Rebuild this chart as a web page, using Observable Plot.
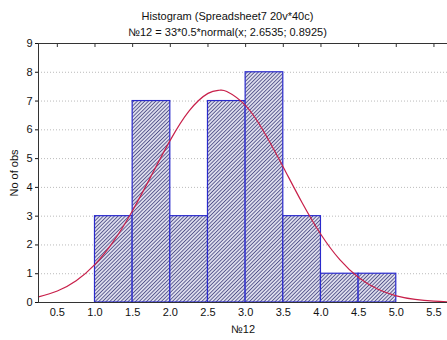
<!DOCTYPE html>
<html>
<head>
<meta charset="utf-8">
<script src="https://cdn.jsdelivr.net/npm/d3@7"></script>
<script src="https://cdn.jsdelivr.net/npm/@observablehq/plot@0.6"></script>
<style>
  body { margin: 0; background: #fff; font-family: "Liberation Sans", Arial, sans-serif; }
  #wrap { width: 447px; height: 340px; overflow: hidden; }
  .t { text-align: center; font-size: 11px; color: #111; padding-left: 8px; position: relative; z-index: 2; }
  .t1 { padding-top: 7px; height: 18px; line-height: 18px; }
  .t2 { height: 15px; line-height: 15px; margin-bottom: -8px; }
  #chart { position: relative; z-index: 1; }
</style>
</head>
<body>
<div id="wrap">
  <div class="t t1">Histogram (Spreadsheet7 20v*40c)</div>
  <div class="t t2">№12 = 33*0.5*normal(x; 2.6535; 0.8925)</div>
  <div id="chart"></div>
</div>
<script>
// Histogram bins (lower edge, upper edge, count)
const binLo = [1.0, 1.5, 2.0, 2.5, 3.0, 3.5, 4.0, 4.5];
const binHi = [1.5, 2.0, 2.5, 3.0, 3.5, 4.0, 4.5, 5.0];
const counts = [3, 7, 3, 7, 8, 3, 1, 1];

// Fitted normal curve points
const curveX = [0.25, 0.5, 0.75, 1.0, 1.25, 1.5, 1.75, 2.0, 2.25, 2.5, 2.65, 2.75, 3.0, 3.25, 3.5, 3.75, 4.0, 4.25, 4.5, 4.75, 5.0, 5.25, 5.5, 5.75];
const curveY = [0.196, 0.401, 0.759, 1.326, 2.142, 3.199, 4.418, 5.641, 6.658, 7.267, 7.375, 7.332, 6.840, 5.899, 4.703, 3.467, 2.363, 1.489, 0.868, 0.467, 0.233, 0.107, 0.046, 0.018];

const xTicks = [0.5, 1.0, 1.5, 2.0, 2.5, 3.0, 3.5, 4.0, 4.5, 5.0, 5.5];
const yTicks = [0, 1, 2, 3, 4, 5, 6, 7, 8, 9];

const bins = binLo.map((lo, i) => ({lo, hi: binHi[i], n: counts[i]}));
const curve = curveX.map((x, i) => ({x, y: curveY[i]}));

const plot = Plot.plot({
  width: 447,
  height: 308,
  marginLeft: 38,
  marginRight: 0,
  marginTop: 11,
  marginBottom: 38,
  style: {fontFamily: "Liberation Sans, Arial, sans-serif", fontSize: "11px", color: "#111", background: "transparent"},
  x: {domain: [0.25, 5.68]},
  y: {domain: [0, 9]},
  marks: [
    Plot.gridY(yTicks.filter(d => d > 0 && d < 9), {stroke: "#bbb", strokeOpacity: 1, strokeDasharray: "1,2"}),
    Plot.rectY(bins, {x1: "lo", x2: "hi", y: "n", fill: "url(#hatch)", stroke: "#2a2acc", strokeWidth: 1.2}),
    Plot.line(curve, {x: "x", y: "y", stroke: "#c8204a", strokeWidth: 1.2, curve: "natural"}),
    Plot.axisX(xTicks, {anchor: "bottom", tickSize: 0, tickPadding: 6, tickFormat: d => d.toFixed(1), label: "№12", labelAnchor: "center", labelOffset: 30, labelArrow: "none"}),
    Plot.axisX(xTicks, {anchor: "top", tickSize: -3, tickFormat: () => "", label: null, stroke: "#333"}),
    Plot.axisY(yTicks, {anchor: "left", tickSize: 3, tickPadding: 3, label: "No of obs", labelAnchor: "center", labelOffset: 28, labelArrow: "none"}),
    Plot.ruleY([0], {stroke: "#333"}),
    Plot.ruleY([9], {stroke: "#333"}),
    Plot.ruleX([0.25], {stroke: "#333"})
  ]
});

const defs = document.createElementNS("http://www.w3.org/2000/svg", "defs");
defs.innerHTML = `<pattern id="hatch" patternUnits="userSpaceOnUse" width="2.6" height="2.6" patternTransform="rotate(45)">
  <rect width="2.6" height="2.6" fill="#dcdcec"></rect>
  <line x1="0" y1="0" x2="0" y2="2.6" stroke="#3e3e7c" stroke-width="1.5"></line>
</pattern>`;
plot.insertBefore(defs, plot.firstChild);
document.getElementById("chart").appendChild(plot);
</script>
</body>
</html>
